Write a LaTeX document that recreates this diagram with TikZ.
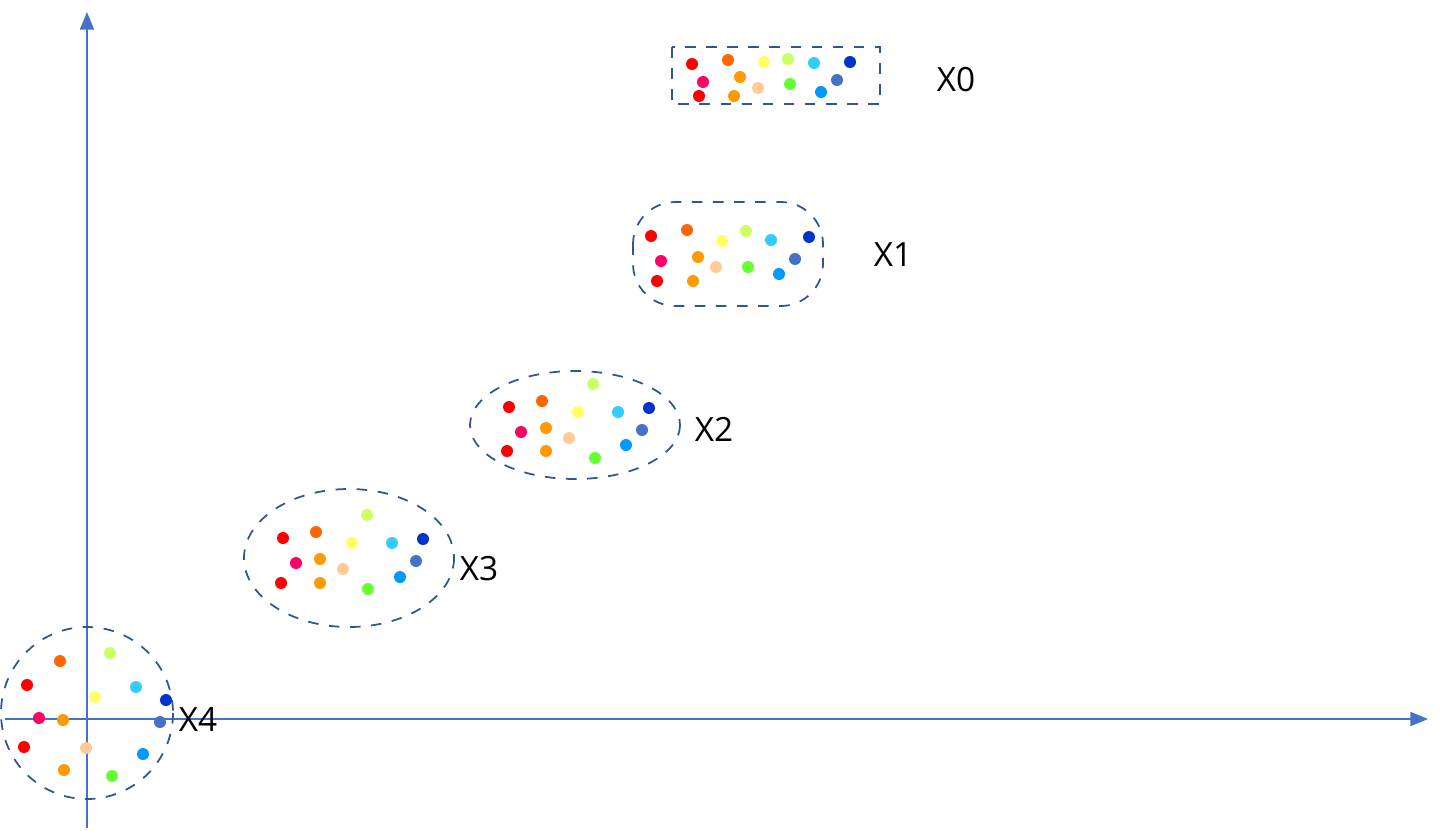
\documentclass[tikz,border=0pt]{standalone}
\usepackage{fontspec}
\setmainfont{Open Sans}
\usetikzlibrary{arrows.meta}
\definecolor{axis}{HTML}{4472C4}
\definecolor{dash}{HTML}{2F5597}
\definecolor{cR}{HTML}{FF0000}
\definecolor{cO}{HTML}{FF6600}
\definecolor{cY}{HTML}{FFFF66}
\definecolor{cL}{HTML}{CCFF66}
\definecolor{cC}{HTML}{33CCFF}
\definecolor{cD}{HTML}{0033CC}
\definecolor{cP}{HTML}{FF0066}
\definecolor{cA}{HTML}{FF9900}
\definecolor{cE}{HTML}{FFCC99}
\definecolor{cG}{HTML}{66FF33}
\definecolor{cB}{HTML}{0099FF}
\definecolor{cS}{HTML}{4472C4}
\tikzset{
 axisline/.style={draw=axis,line width=0.4pt,-{Triangle[length=5pt,width=4pt]}},
 grp/.style={draw=dash,dashed,line width=0.5pt},
 lbl/.style={font=\fontsize{9.5}{11}\selectfont,inner sep=0pt},
}
\newcommand{\dotset}[1]{\foreach \px/\py/\cc in {#1}{\fill[\cc] (\px,\py) circle (6);}}
\begin{document}
\begin{tikzpicture}[x=0.01cm,y=-0.01cm]
\useasboundingbox (0,0) rectangle (1440,830);
\coordinate (ys) at (87,828); \coordinate (ye) at (87,12);
\coordinate (xs) at (5,719); \coordinate (xe) at (1428,719);
\draw[axisline] (ys) -- (ye);
\draw[axisline] (xs) -- (xe);
% X0
\draw[grp] (672,47) rectangle (880,104);
\dotset{692/64/cR,728/60/cO,764/62/cY,788/59/cL,814/63/cC,850/62/cD,703/82/cP,740/77/cA,758/88/cE,790/84/cG,821/92/cB,837/80/cS,699/96/cR,734/96/cA}
\node[lbl] (x0) at (956,80) {X0};
% X1
\draw[grp,rounded corners=12] (633,202) rectangle (823,306);
\dotset{651/236/cR,687/230/cO,722/241/cY,746/231/cL,771/240/cC,809/237/cD,661/261/cP,698/257/cA,716/267/cE,748/267/cG,779/274/cB,795/259/cS,657/281/cR,693/281/cA}
\node[lbl] (x1) at (893,255) {X1};
% X2
\draw[grp] (575,425) ellipse [x radius=105,y radius=54];
\dotset{509/407/cR,542/401/cO,578/412/cY,593/384/cL,618/412/cC,649/408/cD,521/432/cP,546/428/cA,569/438/cE,595/458/cG,626/445/cB,642/430/cS,507/451/cR,546/451/cA}
\node[lbl] (x2) at (714,429) {X2};
% X3
\draw[grp] (349,558) ellipse [x radius=105,y radius=69];
\dotset{283/538/cR,316/532/cO,352/543/cY,367/515/cL,392/543/cC,423/539/cD,296/563/cP,320/559/cA,343/569/cE,368/589/cG,400/577/cB,416/561/cS,281/583/cR,320/583/cA}
\node[lbl] (x3) at (479,569) {X3};
% X4
\draw[grp] (87,713) circle (86);
\dotset{27/685/cR,60/661/cO,95/697/cY,110/653/cL,136/687/cC,166/700/cD,39/718/cP,63/720/cA,86/748/cE,112/776/cG,143/754/cB,160/722/cS,24/747/cR,64/770/cA}
\node[lbl] (x4) at (198,719) {X4};
\end{tikzpicture}
\end{document}
